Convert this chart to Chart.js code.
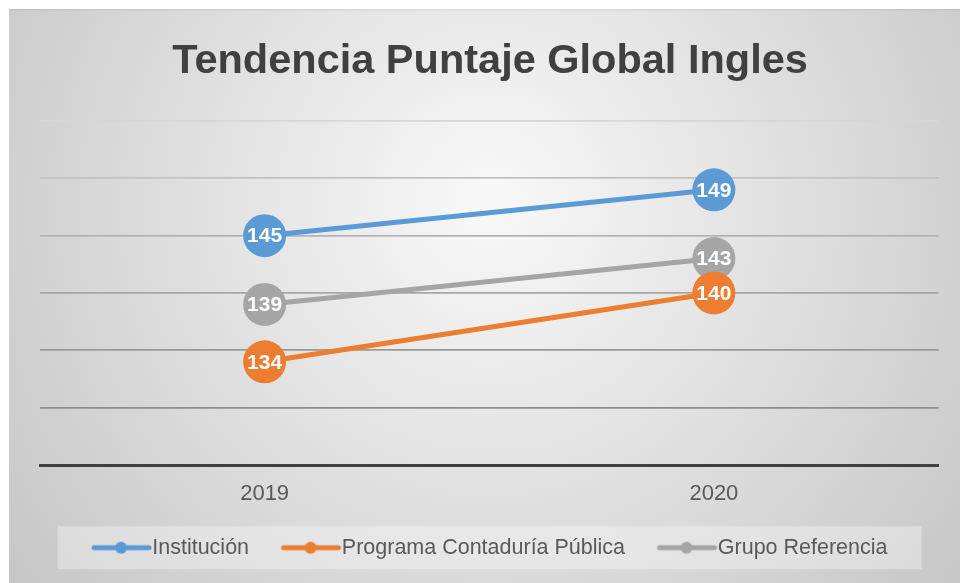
<!DOCTYPE html>
<html>
<head>
<meta charset="utf-8">
<title>Tendencia Puntaje Global Ingles</title>
<script src="https://cdn.jsdelivr.net/npm/chart.js@4.4.1/dist/chart.umd.min.js"></script>
<style>
  html, body { margin: 0; padding: 0; background: #fff; }
  #wrap { width: 960px; height: 583px; }
</style>
</head>
<body>
<div id="wrap"><canvas id="trendChart" width="960" height="583"></canvas></div>
<script>
// Data
const years = ['2019', '2020']
const institucion = [145, 149]
const programa = [134, 140]
const grupo = [139, 143]
const seriesNames = ['Institución', 'Programa Contaduría Pública', 'Grupo Referencia']
const seriesColors = ['#5B9BD5', '#ED7D31', '#A5A5A5']

const FONT = '"Liberation Sans", Arial, sans-serif'
const LEGEND_BOX = 49 // width reserved for the legend icon

// Small "line with dot" icon for the legend (drawn off-centre so the
// gap before the text stays small while items keep their spacing)
function legendIcon(color) {
  const c = document.createElement('canvas')
  c.width = 120
  c.height = 16
  const ctx = c.getContext('2d')
  ctx.strokeStyle = color
  ctx.lineWidth = 5
  ctx.lineCap = 'round'
  ctx.beginPath()
  ctx.moveTo(37, 8)
  ctx.lineTo(92, 8)
  ctx.stroke()
  ctx.fillStyle = color
  ctx.beginPath()
  ctx.arc(64, 8, 6, 0, Math.PI * 2)
  ctx.fill()
  return c
}

// Grey radial background + legend box
const backgroundPlugin = {
  id: 'background',
  beforeDraw(chart) {
    const ctx = chart.ctx
    ctx.save()
    const g = ctx.createRadialGradient(490, 200, 20, 490, 220, 640)
    g.addColorStop(0, '#f7f7f7')
    g.addColorStop(0.5, '#dddddd')
    g.addColorStop(1, '#c3c3c3')
    ctx.fillStyle = g
    ctx.fillRect(9, 9, 951, 574)
    ctx.fillStyle = 'rgba(0,0,0,0.06)'
    ctx.fillRect(9, 9, 951, 1.5)

    const items = chart.legend.legendHitBoxes
    if (items && items.length) {
      const last = items[items.length - 1]
      const left = items[0].left - 35
      const right = last.left + last.width + 34
      const mid = items[0].top + items[0].height / 2
      ctx.fillStyle = 'rgba(255,255,255,0.32)'
      ctx.fillRect(left, mid - 21.5, right - left, 43)
    }
    ctx.restore()
  }
}

// White value labels centred on each marker
const valueLabelPlugin = {
  id: 'valueLabels',
  afterDatasetsDraw(chart) {
    const ctx = chart.ctx
    ctx.save()
    ctx.font = 'bold 21px ' + FONT
    ctx.fillStyle = '#ffffff'
    ctx.textAlign = 'center'
    ctx.textBaseline = 'middle'
    chart.data.datasets.forEach((ds, i) => {
      chart.getDatasetMeta(i).data.forEach((pt, j) => {
        ctx.fillText(ds.data[j], pt.x, pt.y + 1)
      })
    })
    ctx.restore()
  }
}

const gridColors = {
  125: 'rgba(0,0,0,0)',
  130: '#8e8e8e',
  135: '#999999',
  140: '#a6a6a6',
  145: '#b3b3b3',
  150: '#c2c2c2',
  155: '#d6d6d6'
}

function makeDataset(label, data, color) {
  return {
    label: label,
    data: data,
    borderColor: color,
    backgroundColor: color,
    borderWidth: 5,
    pointRadius: 21.5,
    pointHoverRadius: 21.5,
    pointBorderWidth: 0,
    pointBackgroundColor: color,
    tension: 0
  }
}

const ctx = document.getElementById('trendChart').getContext('2d')
window.trendChart = new Chart(ctx, {
  type: 'line',
  data: {
    labels: years,
    datasets: [
      makeDataset(seriesNames[0], institucion, seriesColors[0]),
      makeDataset(seriesNames[1], programa, seriesColors[1]),
      makeDataset(seriesNames[2], grupo, seriesColors[2])
    ]
  },
  options: {
    responsive: false,
    animation: false,
    events: [],
    layout: {
      padding: { left: 40, right: 20, top: 9, bottom: 14.5 }
    },
    scales: {
      x: {
        offset: true,
        grid: { display: false },
        border: { display: true, color: '#404040', width: 3 },
        ticks: {
          color: '#595959',
          padding: 8,
          font: { family: FONT, size: 22 }
        },
        afterFit(scale) {
          scale.height = 39
        }
      },
      y: {
        min: 125,
        max: 155,
        ticks: { display: false, stepSize: 5 },
        border: { display: false },
        grid: {
          drawTicks: false,
          lineWidth: 1.8,
          color: c => gridColors[c.tick.value] || '#aaaaaa'
        }
      }
    },
    plugins: {
      title: {
        display: true,
        text: 'Tendencia Puntaje Global Ingles',
        color: '#404040',
        font: { family: FONT, size: 41.5, weight: 'bold' },
        padding: { top: 28, bottom: 34.2 }
      },
      legend: {
        position: 'bottom',
        labels: {
          usePointStyle: true,
          pointStyleWidth: LEGEND_BOX,
          padding: 33,
          color: '#595959',
          font: { family: FONT, size: 21.5 },
          generateLabels(chart) {
            return chart.data.datasets.map((ds, i) => ({
              text: ds.label,
              fillStyle: seriesColors[i],
              strokeStyle: seriesColors[i],
              fontColor: '#595959',
              lineWidth: 0,
              pointStyle: legendIcon(seriesColors[i]),
              datasetIndex: i,
              hidden: false
            }))
          }
        }
      },
      tooltip: { enabled: false }
    }
  },
  plugins: [backgroundPlugin, valueLabelPlugin]
})
</script>
</body>
</html>
